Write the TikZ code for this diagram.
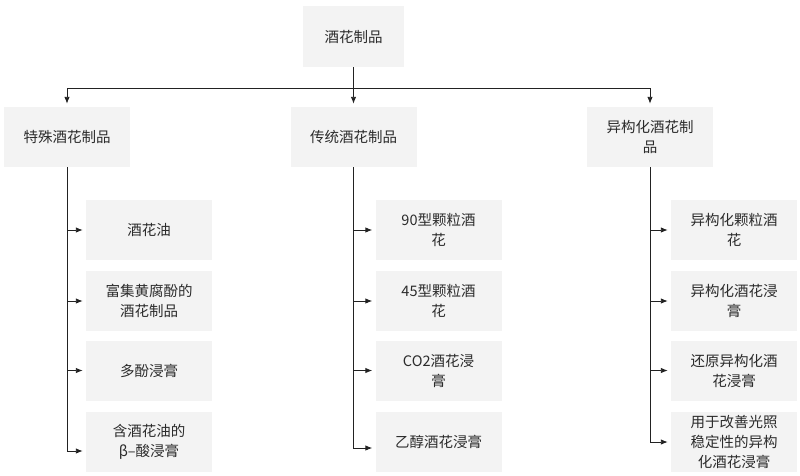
\documentclass[tikz,border=0pt]{standalone}
\usepackage{fontspec}
\setmainfont{Noto Sans CJK SC}
\usetikzlibrary{arrows.meta}
\definecolor{boxfill}{HTML}{F3F3F3}
\definecolor{txt}{HTML}{2B2B2B}
\definecolor{ln}{HTML}{222222}
\tikzset{
  box/.style={fill=boxfill, draw=none, minimum width=126pt, minimum height=60pt,
    inner sep=2pt, align=center, text=txt, font=\fontsize{14.5pt}{20pt}\selectfont},
  arr/.style={draw=ln, line width=0.9pt, -{Latex[length=7pt,width=5.5pt]}, shorten >=3pt},
}
\begin{document}
\begin{tikzpicture}[x=1pt,y=-1pt]
\useasboundingbox (0,0) rectangle (800,475);
\node[box, minimum width=101pt, minimum height=61pt] (root) at (353.5,36.5) {酒花制品};
\node[box] (b1) at (67,137) {特殊酒花制品};
\node[box] (b2) at (353.5,137) {传统酒花制品};
\node[box] (b3) at (650,137) {异构化酒花制\\品};
% left column
\node[box] (c11) at (149,230) {酒花油};
\node[box] (c12) at (149,301) {富集黄腐酚的\\酒花制品};
\node[box] (c13) at (149,370.5) {多酚浸膏};
\node[box] (c14) at (149,442) {含酒花油的\\β–酸浸膏};
% middle column
\node[box] (c21) at (438.5,230) {90型颗粒酒\\花};
\node[box] (c22) at (438.5,301) {45型颗粒酒\\花};
\node[box] (c23) at (438.5,370.5) {CO2酒花浸\\膏};
\node[box] (c24) at (438.5,442) {乙醇酒花浸膏};
% right column
\node[box] (c31) at (734,230) {异构化颗粒酒\\花};
\node[box] (c32) at (734,301) {异构化酒花浸\\膏};
\node[box] (c33) at (734,370.5) {还原异构化酒\\花浸膏};
\node[box] (c34) at (734,442) {用于改善光照\\稳定性的异构\\化酒花浸膏};
% top connectors
\coordinate (j) at (353.5,88);
\draw[arr] (root.south) -- (b2.north);
\draw[arr] (j) -| (b1.north);
\draw[arr] (j) -| (b3.north);
% left branch
\draw[arr] (b1.south) |- (c11.west);
\draw[arr] (b1.south) |- (c12.west);
\draw[arr] (b1.south) |- (c13.west);
\draw[arr] (b1.south) |- ([yshift=-9pt]c14.west);
% middle branch
\draw[arr] (b2.south) |- (c21.west);
\draw[arr] (b2.south) |- (c22.west);
\draw[arr] (b2.south) |- (c23.west);
\draw[arr] (b2.south) |- ([yshift=-6pt]c24.west);
% right branch
\draw[arr] (b3.south) |- (c31.west);
\draw[arr] (b3.south) |- (c32.west);
\draw[arr] (b3.south) |- (c33.west);
\draw[arr] (b3.south) |- (c34.west);
\end{tikzpicture}
\end{document}
